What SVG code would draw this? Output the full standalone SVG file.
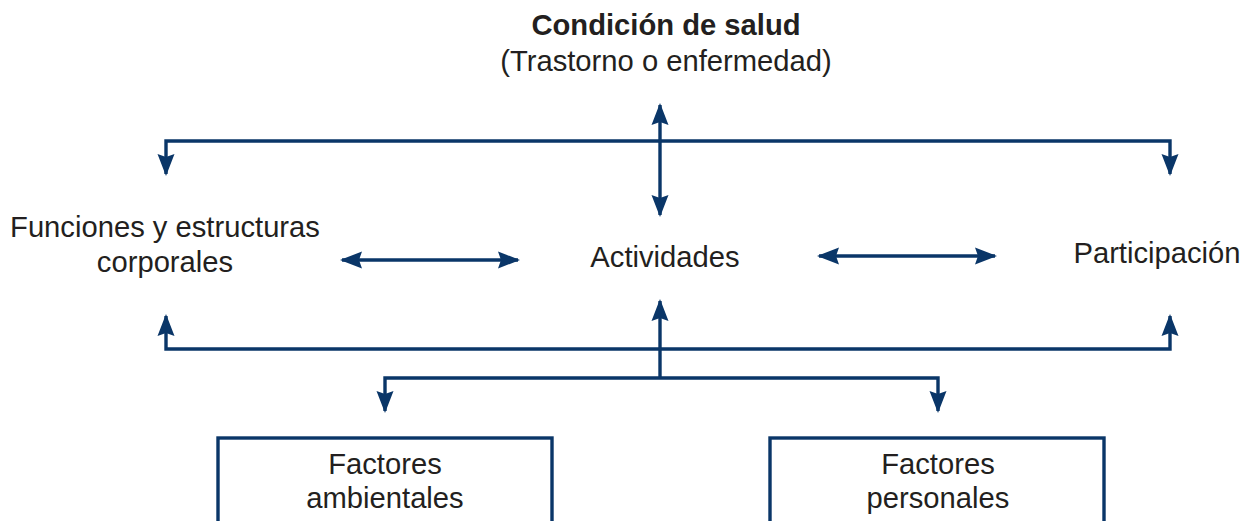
<svg xmlns="http://www.w3.org/2000/svg" width="1243" height="521" viewBox="0 0 1243 521">
<defs>
<style>
.t{font-family:"Liberation Sans",Arial,sans-serif;font-size:29.2px;fill:#231f20;text-anchor:middle}
.b{font-weight:bold}
.c{fill:none;stroke:#0a3668;stroke-width:3.4;marker-start:url(#ah);marker-end:url(#ah)}
.e{fill:none;stroke:#0a3668;stroke-width:3.4;marker-end:url(#ah)}
.box{fill:#fff;stroke:#0a3668;stroke-width:3.4}
</style>
<marker id="ah" markerUnits="userSpaceOnUse" markerWidth="22" markerHeight="18" refX="20" refY="9" orient="auto-start-reverse" viewBox="0 0 22 18">
<path d="M0,0.5 L22,9 L0,17.5 L3,9 z" fill="#0a3668"/>
</marker>
</defs>
<g id="connectors">
<path class="c" d="M166,174 V141 H1170 V174"/>
<path class="c" d="M660,105 V215"/>
<path class="c" d="M166,316 V349 H1170 V316"/>
<path class="e" d="M660,378 V301"/>
<path class="c" d="M385,411 V378 H938 V411"/>
<path class="c" d="M342,260 H518"/>
<path class="c" d="M819,256 H995"/>
</g>
<g id="condicion">
<text class="t b" x="666" y="35">Condición de salud</text>
<text class="t" x="666" y="71">(Trastorno o enfermedad)</text>
</g>
<g id="funciones">
<text class="t" x="165" y="237">Funciones y estructuras</text>
<text class="t" x="165" y="272">corporales</text>
</g>
<g id="actividades">
<text class="t" x="665" y="267">Actividades</text>
</g>
<g id="participacion">
<text class="t" x="1157" y="263">Participación</text>
</g>
<g id="ambientales">
<rect class="box" x="218" y="438" width="334" height="100"/>
<text class="t" x="385" y="474">Factores</text>
<text class="t" x="385" y="508">ambientales</text>
</g>
<g id="personales">
<rect class="box" x="770" y="438" width="334" height="100"/>
<text class="t" x="938" y="474">Factores</text>
<text class="t" x="938" y="508">personales</text>
</g>
</svg>
